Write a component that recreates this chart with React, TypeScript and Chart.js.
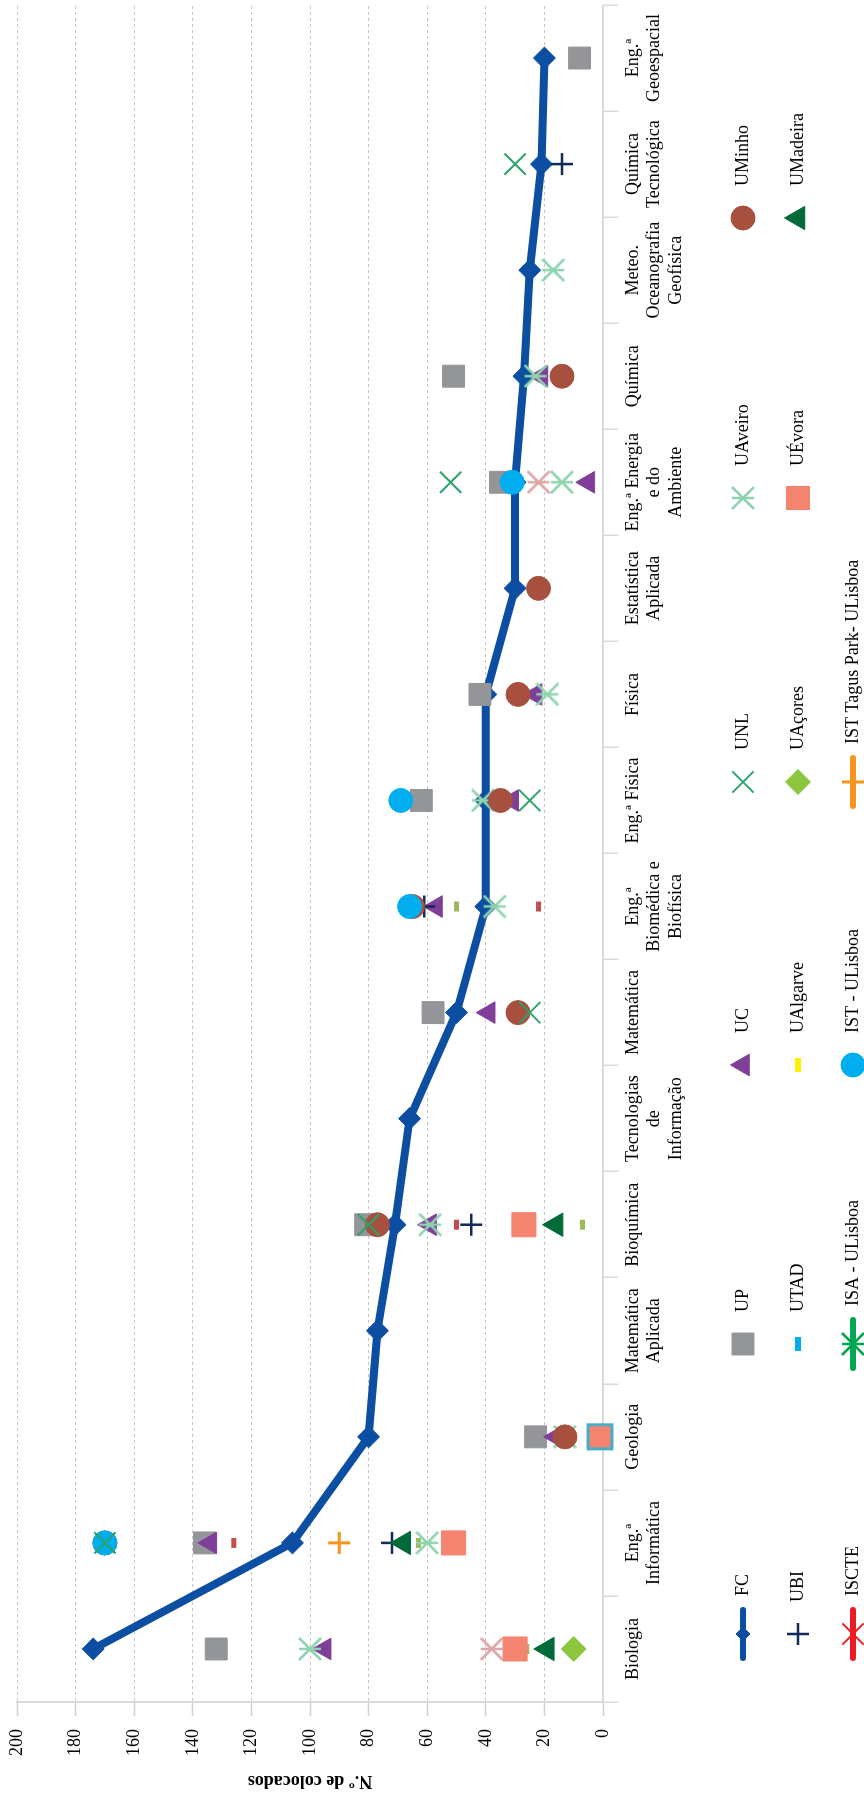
import React, { useEffect, useRef } from 'react';
import { Chart, registerables } from 'chart.js';
import { drawPoint } from 'chart.js/helpers';

Chart.register(...registerables);

// ---------- data ----------
const categories: (string | string[])[] = [
  'Biologia',
  ['Eng.ª', 'Informática'],
  'Geologia',
  ['Matemática', 'Aplicada'],
  'Bioquímica',
  ['Tecnologias', 'de', 'Informação'],
  'Matemática',
  ['Eng.ª', 'Biomédica e', 'Biofísica'],
  'Eng.ª Física',
  'Física',
  ['Estatística', 'Aplicada'],
  ['Eng.ª Energia', 'e do', 'Ambiente'],
  'Química',
  ['Meteo.', 'Oceanografia', 'Geofísica'],
  ['Química', 'Tecnológica'],
  ['Eng.ª', 'Geoespacial'],
];

const valueMin = 0;
const valueMax = 200;
const valueStep = 20;

const N = null;
const fc = [174, 106, 80, 77, 71, 66, 50, 40, 40, 40, 30, 30, 27, 25, 21, 20];
const up = [132, 136, 23, N, 81, N, 58, N, 62, 42, N, 35, 51, N, N, 8];
const uc = [95, 134, 16, N, 59, N, 39, 57, 31, 23, N, 5, 21, N, N, N];
const unl = [N, 170, N, N, 80, N, 25, N, 25, N, N, 52, N, N, 30, N];
const uaveiro = [100, 60, 13, N, 59, N, N, 37, 41, 19, N, 14, 23, 17, N, N];
const uminho = [N, 170, 13, N, 77, N, 29, 65, 35, 29, 22, N, 14, N, N, N];
const ubi = [N, 72, N, N, 45, N, N, 61, N, N, N, N, N, N, 14, N];
const utad = [N, N, N, N, N, N, N, N, N, N, N, N, N, N, N, N];
const ualgarve = [N, N, N, N, N, N, N, N, N, N, N, N, N, N, N, N];
const uacores = [10, N, N, N, N, N, N, N, N, N, N, N, N, N, N, N];
const uevora = [30, 51, 1, N, 27, N, N, N, N, N, N, N, N, N, N, N];
const umadeira = [19, 68, N, N, 16, N, N, N, N, N, N, N, N, N, N, N];
const iscte = [N, N, N, N, N, N, N, N, N, N, N, N, N, N, N, N];
const isa = [N, N, N, N, N, N, N, N, N, N, N, N, N, N, N, N];
const ist = [N, 170, N, N, N, N, N, 66, 69, N, N, 31, N, N, N, N];
const istTagus = [N, 90, N, N, N, N, N, N, N, N, N, N, N, N, N, N];
const otherRedDash = [29, 126, N, N, 50, N, N, 22, N, N, N, N, N, N, N, N];
const otherOliveDash = [26, 63, N, N, 7, N, N, 50, N, N, N, N, N, N, N, N];
const otherPinkStar = [38, N, N, N, N, N, N, N, N, N, N, 22, N, N, N, N];

// ---------- layout / style (original, un-rotated frame) ----------
const W = 1802;
const H = 864;
const FONT = "'Liberation Serif', 'Times New Roman', serif";
const legendCols = [168, 458, 737, 1020, 1304, 1584];
const legendRows = [743, 798, 853];

function makeAsterisk(color: string, size = 24, lw = 2.5) {
  const c = document.createElement('canvas');
  c.width = size;
  c.height = size;
  const ctx = c.getContext('2d')!;
  ctx.strokeStyle = color;
  ctx.lineWidth = lw;
  const m = size / 2;
  const r = size / 2 - 1;
  ctx.beginPath();
  ctx.moveTo(m, m - r);
  ctx.lineTo(m, m + r);
  ctx.moveTo(m - r, m - r);
  ctx.lineTo(m + r, m + r);
  ctx.moveTo(m + r, m - r);
  ctx.lineTo(m - r, m + r);
  ctx.stroke();
  return c;
}

type Entry = { label: string; col: number; row: number; line?: boolean; radius?: number };
const legendEntries: Entry[] = [
  { label: 'FC', col: 0, row: 0, line: true, radius: 7 },
  { label: 'UBI', col: 0, row: 1 },
  { label: 'ISCTE', col: 0, row: 2, line: true },
  { label: 'UP', col: 1, row: 0 },
  { label: 'UTAD', col: 1, row: 1 },
  { label: 'ISA - ULisboa', col: 1, row: 2, line: true },
  { label: 'UC', col: 2, row: 0 },
  { label: 'UAlgarve', col: 2, row: 1 },
  { label: 'IST - ULisboa', col: 2, row: 2 },
  { label: 'UNL', col: 3, row: 0 },
  { label: 'UAçores', col: 3, row: 1 },
  { label: 'IST Tagus Park- ULisboa', col: 3, row: 2, line: true },
  { label: 'UAveiro', col: 4, row: 0 },
  { label: 'UÉvora', col: 4, row: 1 },
  { label: 'UMinho', col: 5, row: 0 },
  { label: 'UMadeira', col: 5, row: 1 },
];

const legendPlugin = {
  id: 'customLegend',
  afterDraw(chart: any) {
    const ctx = chart.ctx as CanvasRenderingContext2D;
    legendEntries.forEach((e) => {
      const ds: any = chart.data.datasets.find((d: any) => d.label === e.label);
      if (!ds) return;
      const cx = legendCols[e.col];
      const cy = legendRows[e.row];
      const color = ds.seriesColor;
      ctx.save();
      if (e.line) {
        ctx.strokeStyle = color;
        ctx.lineWidth = 6;
        ctx.lineCap = 'round';
        ctx.beginPath();
        ctx.moveTo(cx - 24, cy);
        ctx.lineTo(cx + 24, cy);
        ctx.stroke();
      }
      ctx.fillStyle = color;
      ctx.strokeStyle = color;
      ctx.lineWidth = ds.pointBorderWidth;
      ctx.lineCap = 'butt';
      drawPoint(
        ctx,
        { pointStyle: ds.pointStyle, radius: e.radius ?? ds.pointRadius, borderWidth: ds.pointBorderWidth, rotation: 0 } as any,
        cx,
        cy
      );
      ctx.restore();
      ctx.save();
      ctx.fillStyle = '#000';
      ctx.font = `18px ${FONT}`;
      ctx.textBaseline = 'middle';
      ctx.textAlign = 'left';
      ctx.fillText(e.label, cx + (e.line ? 38 : 32), cy);
      ctx.restore();
    });
  },
};

const zeroPad = (s: any) => {
  s.paddingLeft = 0;
  s.paddingRight = 0;
  s.paddingTop = 0;
  s.paddingBottom = 0;
};

export default function App() {
  const ref = useRef<HTMLCanvasElement>(null);

  useEffect(() => {
    const canvas = ref.current;
    if (!canvas) return;

    const pts = (
      label: string,
      data: (number | null)[],
      style: any,
      color: string,
      radius: number,
      layer: number,
      bw = 1,
      extra: any = {}
    ) => ({
      label,
      data,
      seriesColor: color,
      showLine: false,
      pointStyle: style,
      pointRadius: radius,
      pointHoverRadius: radius,
      pointBackgroundColor: color,
      pointBorderColor: color,
      pointBorderWidth: bw,
      borderColor: color,
      backgroundColor: color,
      clip: false,
      order: 100 - layer,
      ...extra,
    });

    const aveiroStar = makeAsterisk('#8fd4ae');
    const isaStar = makeAsterisk('#00a651');
    const pinkStar = makeAsterisk('#dda6a6');

    const datasets: any[] = [
      {
        label: 'FC',
        data: fc,
        seriesColor: '#0b4ea2',
        borderColor: '#0b4ea2',
        backgroundColor: '#0b4ea2',
        borderWidth: 8,
        tension: 0,
        pointStyle: 'rectRot',
        pointRadius: 11,
        pointHoverRadius: 11,
        pointBackgroundColor: '#0b4ea2',
        pointBorderColor: '#0b4ea2',
        pointBorderWidth: 1,
        clip: false,
        order: 100 - 1,
      },
      pts('Outra A', otherRedDash, 'line', '#c0504d', 5, 2, 5),
      pts('Outra B', otherOliveDash, 'line', '#9bbb59', 5, 2, 5),
      pts('Outra C', otherPinkStar, pinkStar, '#dda6a6', 12, 2, 1),
      pts('UP', up, 'rect', '#939598', 15.5, 3),
      pts('UC', uc, 'triangle', '#7f3f98', 12.5, 4),
      pts('UBI', ubi, 'cross', '#13295a', 11, 5, 2.5),
      pts('UTAD', utad, 'line', '#00aeef', 7, 5, 6),
      pts('UAlgarve', ualgarve, 'line', '#fff200', 7, 5, 6),
      pts('ISCTE', iscte, 'crossRot', '#ed1c24', 15, 5, 2),
      pts('ISA - ULisboa', isa, isaStar, '#00a651', 12, 5, 1),
      pts('UAveiro', uaveiro, aveiroStar, '#8fd4ae', 12, 6),
      pts('UMinho', uminho, 'circle', '#a8503f', 12, 7),
      pts('IST - ULisboa', ist, 'circle', '#00aeef', 12, 8),
      pts('UNL', unl, 'crossRot', '#2aa36b', 15, 9, 2),
      pts('UÉvora', uevora, 'rect', '#f4836f', 17, 10, 1, {
        pointBorderColor: uevora.map((_, i) => (i === 2 ? '#4bacc6' : '#f4836f')),
        pointBorderWidth: uevora.map((_, i) => (i === 2 ? 3 : 1)),
      }),
      pts('UMadeira', umadeira, 'triangle', '#006a38', 13.5, 11),
      pts('UAçores', uacores, 'rectRot', '#8cc63f', 12.5, 12),
      pts('IST Tagus Park- ULisboa', istTagus, 'cross', '#f7941d', 11, 13, 3),
    ];

    const chart = new Chart(canvas, {
      type: 'line',
      data: { labels: categories as any, datasets },
      options: {
        animation: false,
        responsive: false,
        maintainAspectRatio: false,
        devicePixelRatio: 1,
        events: [],
        layout: { autoPadding: false, padding: { left: 0, right: 5, top: 17, bottom: 141 } },
        font: { family: FONT, size: 18 },
        plugins: {
          legend: { display: false },
          tooltip: { enabled: false },
        },
        scales: {
          x: {
            type: 'category',
            offset: true,
            grid: {
              display: true,
              drawOnChartArea: false,
              drawTicks: true,
              tickLength: 15,
              offset: true,
              color: '#d9d9d9',
              lineWidth: 1.5,
            },
            border: { display: true, color: '#d9d9d9', width: 2 },
            ticks: {
              padding: 4,
              color: '#000',
              font: { family: FONT, size: 18 },
              maxRotation: 0,
              minRotation: 0,
              autoSkip: false,
            },
            afterFit: (s: any) => {
              s.height = 120;
              zeroPad(s);
            },
          },
          y: {
            min: valueMin,
            max: valueMax,
            ticks: {
              stepSize: valueStep,
              padding: 13,
              color: '#000',
              font: { family: FONT, size: 18 },
            },
            grid: {
              color: '#c6c6c6',
              lineWidth: 1,
              drawTicks: true,
              tickLength: 14,
              tickColor: '#d0d0d0',
              tickWidth: 1.5,
              tickBorderDash: [],
              borderDash: [3, 3],
            } as any,
            border: { display: true, color: '#d9d9d9', width: 2, dash: [3, 3] },
            title: {
              display: true,
              text: 'N.º de colocados',
              color: '#000',
              font: { family: FONT, size: 18, weight: 'bold' },
              padding: { top: 11, bottom: 0 },
            },
            afterFit: (s: any) => {
              s.width = 100;
              zeroPad(s);
            },
          },
        },
      } as any,
      plugins: [legendPlugin],
    });

    return () => chart.destroy();
  }, []);

  return (
    <div
      style={{
        position: 'absolute',
        left: 0,
        top: 0,
        width: 864,
        height: 1802,
        overflow: 'hidden',
        background: '#fff',
      }}
    >
      <div
        style={{
          position: 'absolute',
          left: 0,
          top: 0,
          width: W,
          height: H,
          transformOrigin: '0 0',
          transform: `translateY(${W}px) rotate(-90deg)`,
        }}
      >
        <canvas ref={ref} width={W} height={H} style={{ width: W, height: H, display: 'block' }} />
      </div>
    </div>
  );
}
